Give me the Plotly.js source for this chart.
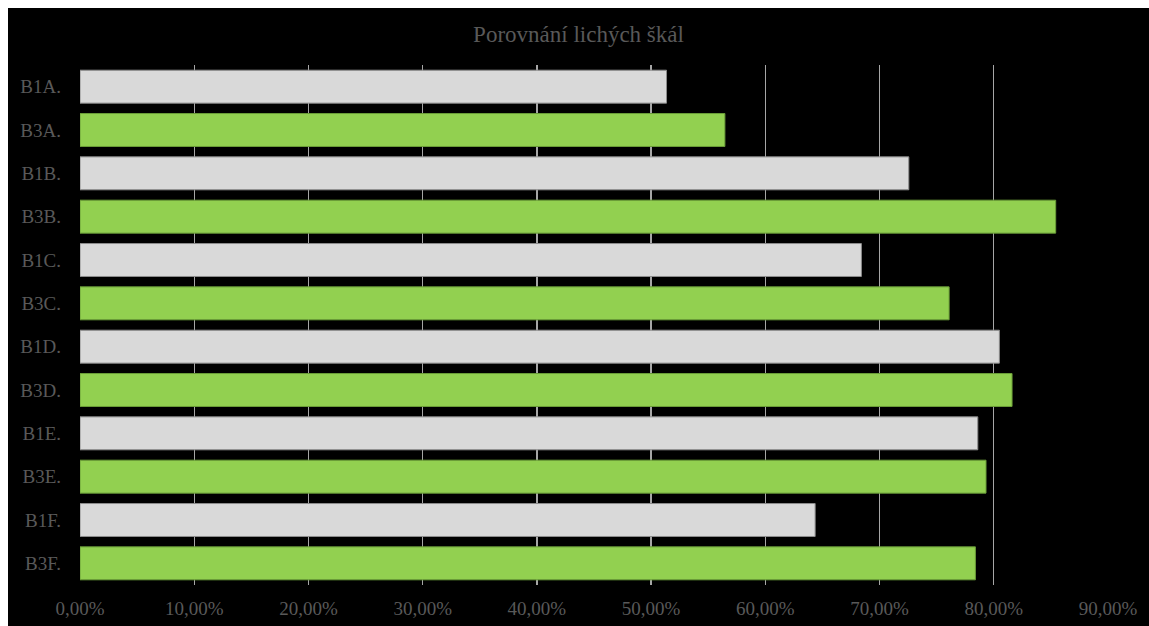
<!DOCTYPE html>
<html>
<head>
<meta charset="utf-8">
<script src="https://cdn.plot.ly/plotly-3.0.1.min.js"></script>
<style>
html,body{margin:0;padding:0;background:#ffffff;}
#chart{position:absolute;left:8px;top:8px;width:1141px;height:618px;}
</style>
</head>
<body>
<div id="chart"></div>
<script>
const categories = ["B1A.","B3A.","B1B.","B3B.","B1C.","B3C.","B1D.","B3D.","B1E.","B3E.","B1F.","B3F."];
const values = [0.5135,0.5646,0.7256,0.8542,0.6841,0.7609,0.8049,0.8160,0.7860,0.7932,0.6436,0.7839];
const tickValues = [0,0.1,0.2,0.3,0.4,0.5,0.6,0.7,0.8,0.9];
const tickLabels = ["0,00%","10,00%","20,00%","30,00%","40,00%","50,00%","60,00%","70,00%","80,00%","90,00%"];
const fillB1 = "#d9d9d9", lineB1 = "#8c8c8c";
const fillB3 = "#92d050", lineB3 = "#6a9d38";

const fills = categories.map(c => c.startsWith("B1") ? fillB1 : fillB3);
const lines = categories.map(c => c.startsWith("B1") ? lineB1 : lineB3);

const trace = {
  type: "bar",
  orientation: "h",
  y: categories,
  x: values,
  marker: {color: fills, line: {color: lines, width: 1}},
  hoverinfo: "none"
};

const font = {family: "Liberation Serif, Times New Roman, serif", color: "#595959"};

const layout = {
  width: 1141, height: 618,
  paper_bgcolor: "#000000",
  plot_bgcolor: "#000000",
  margin: {l: 71.5, r: 41, t: 57, b: 41},
  bargap: 0.24,
  showlegend: false,
  title: {text: "Porovnání lichých škál", font: Object.assign({}, font, {size: 23}), x: 0.5, xanchor: "center", y: 1 - 26/618, yanchor: "middle"},
  xaxis: {
    range: [0, 0.9],
    tickvals: tickValues,
    ticktext: tickLabels,
    showgrid: true,
    gridcolor: "#a6a6a6",
    gridwidth: 1.3,
    zeroline: false,
    showline: false,
    ticks: "",
    tickfont: Object.assign({}, font, {size: 19}),
    ticklabelstandoff: 10,
    fixedrange: true
  },
  yaxis: {
    autorange: "reversed",
    showgrid: false,
    zeroline: false,
    showline: false,
    ticks: "",
    tickfont: Object.assign({}, font, {size: 19}),
    ticklabelstandoff: 18,
    fixedrange: true
  }
};

Plotly.newPlot("chart", [trace], layout, {displayModeBar: false, staticPlot: true});
</script>
</body>
</html>
